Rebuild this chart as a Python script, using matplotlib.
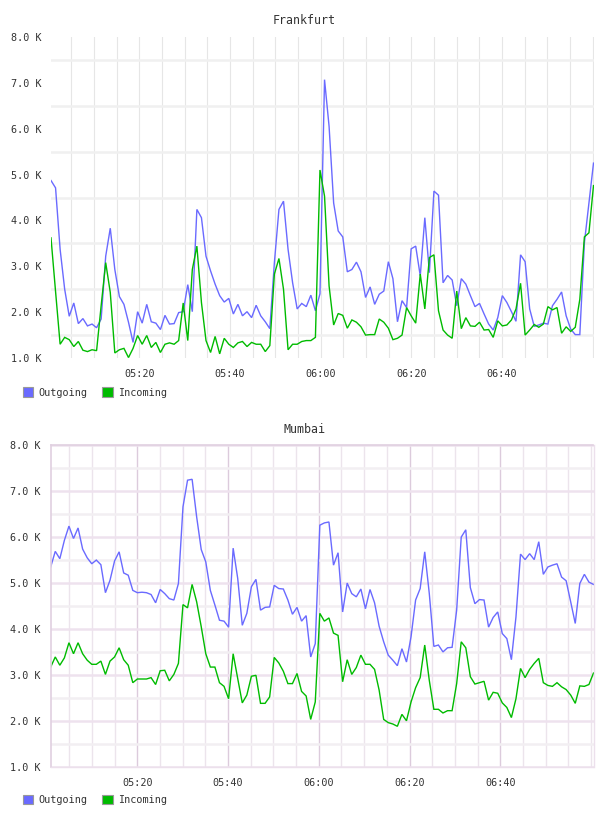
import numpy as np
import matplotlib
matplotlib.use("Agg")
import matplotlib.pyplot as plt
from matplotlib.patches import Patch

# values in K, one point per minute starting just after 05:00
fra_out = [4.87, 4.71, 3.37, 2.50, 1.91, 2.20, 1.75, 1.86, 1.70, 1.74,
           1.66, 1.85, 3.22, 3.83, 2.93, 2.34, 2.17, 1.78, 1.34, 2.01,
           1.76, 2.17, 1.79, 1.76, 1.62, 1.93, 1.74, 1.75, 1.99, 2.01,
           2.60, 2.01, 4.24, 4.06, 3.22, 2.90, 2.61, 2.36, 2.22, 2.30,
           1.96, 2.17, 1.92, 2.01, 1.88, 2.15, 1.92, 1.79, 1.64, 3.08,
           4.24, 4.42, 3.37, 2.64, 2.07, 2.19, 2.12, 2.37, 2.03, 2.40,
           7.07, 6.05, 4.38, 3.77, 3.64, 2.88, 2.93, 3.09, 2.88, 2.32,
           2.55, 2.17, 2.39, 2.46, 3.10, 2.73, 1.79, 2.25, 2.10, 3.38,
           3.44, 2.79, 4.06, 2.86, 4.64, 4.55, 2.64, 2.80, 2.70, 2.14,
           2.73, 2.61, 2.36, 2.12, 2.19, 1.96, 1.74, 1.61, 1.88, 2.36,
           2.21, 2.01, 1.80, 3.25, 3.10, 2.07, 1.69, 1.72, 1.76, 1.74,
           2.14, 2.28, 2.44, 1.92, 1.63, 1.51, 1.51, 3.51, 4.38, 5.25]
fra_in = [3.62, 2.45, 1.30, 1.45, 1.40, 1.25, 1.36, 1.17, 1.14, 1.18,
          1.16, 2.14, 3.08, 2.43, 1.11, 1.18, 1.21, 1.01, 1.21, 1.49,
          1.30, 1.49, 1.23, 1.34, 1.12, 1.30, 1.33, 1.30, 1.38, 2.20,
          1.38, 2.93, 3.44, 2.21, 1.38, 1.12, 1.47, 1.09, 1.43, 1.30,
          1.23, 1.33, 1.36, 1.25, 1.34, 1.30, 1.30, 1.14, 1.27, 2.83,
          3.17, 2.50, 1.18, 1.30, 1.30, 1.36, 1.38, 1.38, 1.45, 5.10,
          4.53, 2.57, 1.72, 1.97, 1.93, 1.65, 1.83, 1.78, 1.68, 1.50,
          1.51, 1.51, 1.85, 1.78, 1.65, 1.40, 1.43, 1.50, 2.10, 1.92,
          1.76, 2.83, 2.07, 3.19, 3.25, 2.03, 1.61, 1.50, 1.43, 2.46,
          1.64, 1.88, 1.70, 1.69, 1.78, 1.61, 1.62, 1.45, 1.81, 1.70,
          1.72, 1.83, 2.07, 2.63, 1.50, 1.61, 1.73, 1.67, 1.74, 2.12,
          2.05, 2.10, 1.54, 1.68, 1.58, 1.67, 2.28, 3.64, 3.73, 4.76]
mum_out = [5.35, 5.69, 5.53, 5.93, 6.24, 5.97, 6.20, 5.74, 5.55, 5.42,
           5.50, 5.40, 4.79, 5.06, 5.48, 5.68, 5.22, 5.17, 4.84, 4.79,
           4.80, 4.79, 4.75, 4.57, 4.86, 4.77, 4.66, 4.63, 4.99, 6.66,
           7.24, 7.26, 6.44, 5.73, 5.46, 4.84, 4.52, 4.19, 4.17, 4.04,
           5.76, 5.10, 4.08, 4.34, 4.92, 5.08, 4.41, 4.47, 4.48, 4.95,
           4.88, 4.87, 4.63, 4.32, 4.47, 4.17, 4.29, 3.39, 3.68, 6.26,
           6.31, 6.33, 5.39, 5.66, 4.37, 5.00, 4.77, 4.70, 4.87, 4.44,
           4.86, 4.57, 4.06, 3.72, 3.43, 3.32, 3.20, 3.57, 3.28, 3.83,
           4.63, 4.88, 5.68, 4.77, 3.62, 3.65, 3.50, 3.59, 3.60, 4.41,
           6.00, 6.16, 4.90, 4.55, 4.64, 4.63, 4.04, 4.25, 4.37, 3.90,
           3.79, 3.33, 4.26, 5.63, 5.51, 5.64, 5.51, 5.90, 5.19, 5.35,
           5.39, 5.42, 5.13, 5.05, 4.59, 4.12, 4.99, 5.19, 5.02, 4.97]
mum_in = [3.17, 3.39, 3.21, 3.37, 3.70, 3.46, 3.70, 3.46, 3.32, 3.23,
          3.23, 3.30, 3.01, 3.30, 3.39, 3.59, 3.33, 3.21, 2.83, 2.91,
          2.91, 2.91, 2.94, 2.79, 3.09, 3.10, 2.87, 3.01, 3.25, 4.53,
          4.46, 4.97, 4.59, 4.05, 3.46, 3.17, 3.17, 2.83, 2.75, 2.48,
          3.46, 2.92, 2.39, 2.56, 2.97, 2.99, 2.38, 2.38, 2.52, 3.38,
          3.26, 3.08, 2.81, 2.81, 3.03, 2.64, 2.54, 2.03, 2.41, 4.34,
          4.17, 4.24, 3.91, 3.86, 2.85, 3.33, 3.01, 3.16, 3.43, 3.23,
          3.23, 3.12, 2.67, 2.03, 1.96, 1.93, 1.88, 2.14, 2.00, 2.41,
          2.72, 2.94, 3.65, 2.88, 2.25, 2.25, 2.17, 2.22, 2.22, 2.81,
          3.72, 3.59, 2.96, 2.80, 2.83, 2.86, 2.45, 2.62, 2.60, 2.39,
          2.29, 2.07, 2.48, 3.14, 2.94, 3.12, 3.25, 3.36, 2.83, 2.77,
          2.75, 2.83, 2.74, 2.68, 2.56, 2.38, 2.76, 2.75, 2.79, 3.04]

tick_min = [20, 40, 60, 80, 100]
tick_lbl = ["05:20", "05:40", "06:00", "06:20", "06:40"]

BLUE = "#6a6aff"
GREEN = "#00bb00"
TXT = "#333333"
FONT = "DejaVu Sans Mono"

W, H = 608, 816
fig = plt.figure(figsize=(W / 100, H / 100), dpi=100)


def px_axes(left, top, right, bottom):
    return fig.add_axes([left / W, 1 - bottom / H, (right - left) / W, (bottom - top) / H])


def setup(ax, t0, t1, purple):
    ax.set_xlim(t0, t1)
    ax.set_ylim(1, 8)
    ax.set_xticks(tick_min)
    ax.set_xticklabels(tick_lbl)
    ax.set_xticks([m for m in range(5, 121, 5) if t0 < m < t1 and m not in tick_min], minor=True)
    ax.set_yticks(range(1, 9))
    ax.set_yticklabels([f"{v:.1f} K" for v in range(1, 9)])
    ax.set_yticks(np.arange(1.5, 8, 1.0), minor=True)
    ax.tick_params(which="both", length=0, labelsize=7.3, colors=TXT, labelfontfamily=FONT)
    ax.tick_params(axis="y", pad=7)
    ax.tick_params(axis="x", pad=8)
    ax.set_axisbelow(True)
    if purple:
        ax.grid(axis="x", which="major", color="#dccbdc", lw=1.0)
        ax.grid(axis="x", which="minor", color="#ece4ec", lw=1.0)
        ax.grid(axis="y", which="major", color="#eee2ee", lw=1.8)
        ax.grid(axis="y", which="minor", color="#f2eff2", lw=1.8)
        for s in ["left", "top"]:
            ax.spines[s].set_color("#e0d0e0")
            ax.spines[s].set_linewidth(1.2)
        for s in ["right", "bottom"]:
            ax.spines[s].set_color("#ece0ec")
            ax.spines[s].set_linewidth(1.0)
    else:
        ax.grid(axis="x", which="both", color="#e6e6e6", lw=0.8)
        ax.grid(axis="y", which="minor", color="#f0f0f0", lw=1.8)
        for s in ax.spines.values():
            s.set_visible(False)


def legend(ax, ycen):
    handles = [Patch(facecolor=BLUE, edgecolor="#999999", lw=0.8, label="Outgoing"),
               Patch(facecolor=GREEN, edgecolor="#999999", lw=0.8, label="Incoming")]
    ax.legend(handles=handles, loc="center left", bbox_to_anchor=(23 / W, 1 - ycen / H),
              bbox_transform=fig.transFigure, ncol=2, frameon=False,
              prop={"family": FONT, "size": 7.3}, handlelength=1.0, handleheight=1.0,
              handletextpad=0.5, columnspacing=1.5, borderpad=0, borderaxespad=0,
              labelcolor=TXT)


charts = [
    ("Frankfurt", fra_out, fra_in, 0.5, 120.2, (51, 37, 593.5, 358), 20, 392.5, False),
    ("Mumbai", mum_out, mum_in, 0.9, 120.55, (50.7, 445.3, 593.5, 766.7), 429.5, 800, True),
]

for title, out, inc, t0, t1, box, ty, ly, purple in charts:
    ax = px_axes(*box)
    t = np.linspace(t0, t1, len(out))
    ax.plot(t, out, color=BLUE, lw=1.0, solid_joinstyle="miter")
    ax.plot(t, inc, color=GREEN, lw=1.0, solid_joinstyle="miter")
    setup(ax, t0, t1, purple)
    legend(ax, ly)
    # title sits at the centre of the whole image, not of the plot area
    fig.text(304 / W, 1 - ty / H, title, ha="center", va="center",
             fontsize=8.4, color=TXT, family=FONT)

fig.savefig("out.png", dpi=100, facecolor="white")
